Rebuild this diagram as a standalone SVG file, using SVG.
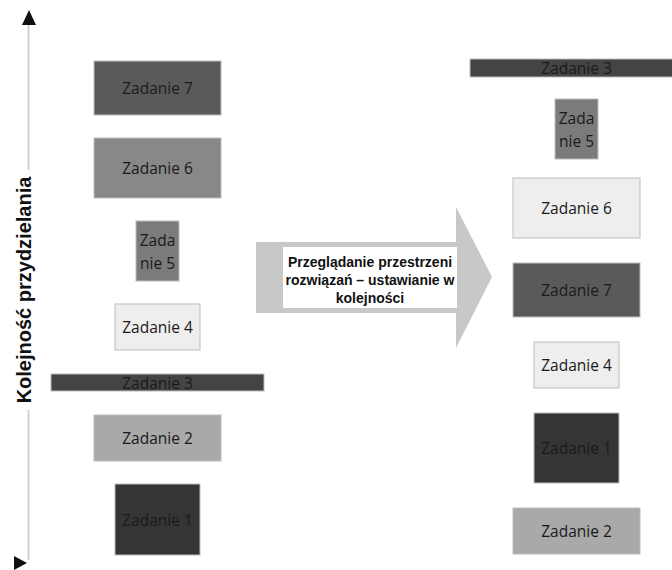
<svg xmlns="http://www.w3.org/2000/svg" width="672" height="570" viewBox="0 0 672 570">
<style>
.box{stroke:#bdbdbd;stroke-width:1}
.t{font-family:"Open Sans","Liberation Sans",sans-serif;font-size:15.5px;fill:#1a1a1a;text-anchor:middle;dominant-baseline:central}
.b{font-family:"Liberation Sans",sans-serif;font-weight:bold;fill:#111;text-anchor:middle}
.c1{fill:#353535}.c2{fill:#a9a9a9}.c3{fill:#444444}.c4{fill:#eeeeee}.c5{fill:#7b7b7b}.c6{fill:#888888}.c7{fill:#5a5a5a}
</style>
<g id="connectors">
<line x1="28.5" y1="22" x2="28.5" y2="170" stroke="#d0d0d0" stroke-width="2"/>
<line x1="28.5" y1="410" x2="28.5" y2="560" stroke="#d0d0d0" stroke-width="2"/>
<polygon points="29,10 22,25 36,25" fill="#111"/>
<polygon points="14,556 27,563 14,570" fill="#111"/>
</g>
<g id="axis-label"><text class="b" font-size="20" transform="translate(31,290) rotate(-90)">Kolejność przydzielania</text></g>
<g id="arrow">
<polygon points="256,242 456,242 456,207 492,277 456,348 456,313 256,313" fill="#c8c8c8"/>
<rect x="283" y="247" width="174" height="61" fill="#ffffff"/>
<text class="b" font-size="14"><tspan x="370" y="267">Przeglądanie przestrzeni</tspan><tspan x="370" y="285">rozwiązań – ustawianie w</tspan><tspan x="370" y="303">kolejności</tspan></text>
</g>
<g id="L7"><rect class="box c7" x="94" y="61" width="127" height="54"/><text class="t" x="157.5" y="88">Zadanie 7</text></g>
<g id="L6"><rect class="box c6" x="94" y="138" width="127" height="60"/><text class="t" x="157.5" y="168">Zadanie 6</text></g>
<g id="L5"><rect class="box c5" x="136" y="221" width="43" height="60"/><text class="t" x="157.5" y="240">Zada</text><text class="t" x="157.5" y="263">nie 5</text></g>
<g id="L4"><rect class="box c4" x="115" y="304" width="85" height="46"/><text class="t" x="157.5" y="327">Zadanie 4</text></g>
<g id="L3"><rect class="box c3" x="51" y="374" width="213" height="17"/><text class="t" x="157.5" y="382.5">Zadanie 3</text></g>
<g id="L2"><rect class="box c2" x="94" y="415" width="127" height="46"/><text class="t" x="157.5" y="438">Zadanie 2</text></g>
<g id="L1"><rect class="box c1" x="115" y="484" width="85" height="71"/><text class="t" x="157.5" y="519.5">Zadanie 1</text></g>
<g id="R3"><rect class="box c3" x="470" y="59" width="203" height="18"/><text class="t" x="576.5" y="68">Zadanie 3</text></g>
<g id="R5"><rect class="box c5" x="555" y="99" width="43" height="60"/><text class="t" x="576.5" y="118">Zada</text><text class="t" x="576.5" y="141">nie 5</text></g>
<g id="R6"><rect class="box c4" x="513" y="178" width="127" height="60"/><text class="t" x="576.5" y="208">Zadanie 6</text></g>
<g id="R7"><rect class="box c7" x="513" y="263" width="127" height="54"/><text class="t" x="576.5" y="290">Zadanie 7</text></g>
<g id="R4"><rect class="box c4" x="534" y="342" width="85" height="46"/><text class="t" x="576.5" y="365">Zadanie 4</text></g>
<g id="R1"><rect class="box c1" x="534" y="413" width="85" height="70"/><text class="t" x="576.5" y="448">Zadanie 1</text></g>
<g id="R2"><rect class="box c2" x="513" y="508" width="127" height="46"/><text class="t" x="576.5" y="531">Zadanie 2</text></g>
</svg>
